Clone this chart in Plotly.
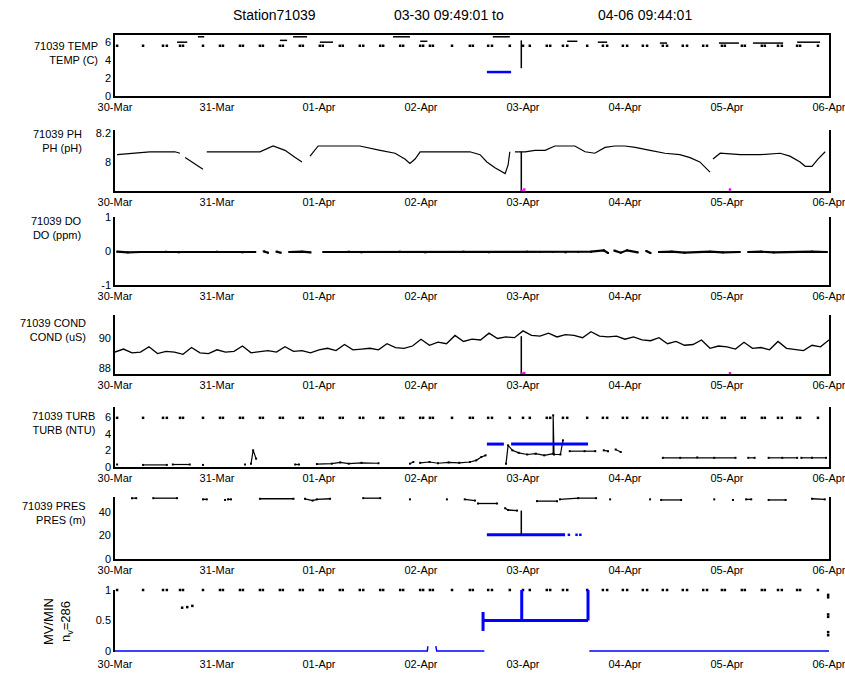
import plotly.graph_objects as go

# ---------------- data (hours since 30-Mar 00:00) ----------------
DAY_H = [0, 24, 48, 72, 96, 120, 144, 168]
DAY_LABELS = ["30-Mar", "31-Mar", "01-Apr", "02-Apr", "03-Apr", "04-Apr", "05-Apr", "06-Apr"]

TITLE_PARTS = ["Station71039", "03-30 09:49:01 to", "04-06 09:44:01"]
YLABELS = [
    ["71039 TEMP", "TEMP (C)"],
    ["71039 PH", "PH (pH)"],
    ["71039 DO", "DO (ppm)"],
    ["71039 COND", "COND (uS)"],
    ["71039 TURB", "TURB (NTU)"],
    ["71039 PRES", "PRES (m)"],
]
MV_LABEL = ["MV/MIN", "n<sub>v</sub>=286"]

# flagged samples drawn at the top of several panels
TOP_DOT_H = [0.5, 6.6, 11.3, 12.2, 15.3, 16.0, 20.7, 24.7, 25.4, 29.4, 30.1, 34.1, 34.8,
             38.8, 39.5, 43.5, 44.2, 48.2, 48.9, 52.9, 53.6, 57.6, 58.4, 62.4, 63.1, 67.1,
             67.8, 71.8, 72.5, 74.1, 74.8, 79.3, 83.5, 84.2, 87.8, 88.7, 92.9, 96.0, 97.6,
             101.6, 102.4, 105.4, 106.4, 111.1, 114.8, 115.8, 119.5, 120.5, 124.2, 125.2,
             128.9, 129.9, 133.6, 134.6, 138.4, 139.3, 142.8, 143.5, 147.5, 148.2, 152.2,
             152.9, 156.0, 156.9, 160.5, 161.2, 165.4]
TEMP_TOP_V = 5.6
TURB_TOP_V = 5.9
MV_TOP_V = 1.0

# TEMP
TEMP_DASH_H = [14.6, 17.0, None, 19.5, 21.0, None, 38.8, 40.5, None, 41.9, 45.2, None,
               48.2, 51.3, None, 65.4, 69.4, None, 71.8, 73.5, None, 88.9, 92.9, None,
               106.4, 108.8, None, 113.6, 115.8, None, 128.2, 129.9, None, 142.1, 146.8,
               None, 150.1, 157.2, None, 160.5, 165.9]
TEMP_DASH_V = [6.0, 6.0, None, 6.6, 6.6, None, 6.2, 6.2, None, 6.6, 6.6, None,
               6.0, 6.0, None, 6.6, 6.6, None, 6.1, 6.1, None, 6.6, 6.6, None,
               6.1, 6.1, None, 6.0, 6.0, None, 5.9, 5.9, None, 5.9, 5.9,
               None, 5.9, 5.9, None, 6.0, 6.0]
TEMP_BLUE_H = [87.5, 93.2]
TEMP_BLUE_V = [2.67, 2.67]

# vertical "current time" marker
MARK_H = [95.6, 95.6]
TEMP_MARK_V = [6.2, 3.1]
PH_MARK_V = [8.07, 7.8]
COND_MARK_V = [90.1, 87.6]
PRES_MARK_V = [41.0, 20.5]

# PH
PH_H = [0.5, 4.7, 8.2, 14.1, 15.3, None, 16.5, 18.1, 19.5, 20.7, None, 21.6, 24.7, 29.4,
        34.1, 37.2, 40.0, 42.4, 44.0, None, 45.9, 47.8, 51.8, 57.6, 62.4, 65.9, 68.2,
        69.4, 70.6, 71.8, 76.5, 83.5, 85.9, 87.5, 89.4, 91.8, 92.5, 92.9, None, 94.1,
        96.5, 98.8, 101.2, 103.5, 105.9, 108.2, 110.6, 112.9, 115.3, 117.6, 120.0,
        122.4, 125.9, 129.4, 132.9, 135.3, 137.6, 140.0, None, 140.7, 142.4, 147.1,
        151.8, 156.5, 158.8, 161.2, 162.4, 164.0, 165.4, 167.1]
PH_V = [8.05, 8.06, 8.07, 8.07, 8.06, None, 8.03, 8.00, 7.97, 7.95, None, 8.07, 8.07, 8.07,
        8.07, 8.11, 8.08, 8.03, 8.00, None, 8.04, 8.11, 8.11, 8.11, 8.08, 8.06, 8.02,
        7.99, 8.02, 8.07, 8.07, 8.07, 8.05, 8.00, 7.96, 7.92, 7.98, 8.07, None, 8.07,
        8.07, 8.08, 8.08, 8.11, 8.11, 8.11, 8.07, 8.06, 8.10, 8.11, 8.11,
        8.10, 8.08, 8.06, 8.05, 8.03, 8.00, 7.93, None, 8.02, 8.06, 8.05,
        8.05, 8.06, 8.04, 8.00, 7.97, 7.97, 8.02, 8.07]

MAG_H = [95.7, 96.3, 144.7]
PH_MAG_V = [7.80, 7.81, 7.81]
COND_MAG_V = [87.62, 87.66, 87.65]

# DO
DO_H = [0.5, 3, 6, 9, 12, 15, 18, 21, 24, 27, 30, 33, None, 35, 36, None, 38, 39, None,
        41, 44, 46, None, 49, 52, 55, 58, 61, 64, 67, 70, 73, 76, 79, 82, 85, 88, 91, 94,
        97, 100, 103, 106, 109, 112, 115, 116, None, 117.5, 119, 120.5, 123, None, 125,
        126, None, 128, 131, 134, 137, 140, 143, 146, 147, None, 149, 152, 155, 158, 161,
        164, 167.5]
DO_V = [-0.02, -0.04, -0.03, -0.03, -0.02, -0.04, -0.03, -0.03, -0.02, -0.03, -0.04, -0.03,
        None, -0.01, -0.05, None, -0.02, -0.05, None, -0.03, -0.02, -0.04, None, -0.03,
        -0.03, -0.02, -0.04, -0.03, -0.03, -0.02, -0.03, -0.04, -0.03, -0.03, -0.02, -0.03,
        -0.04, -0.03, -0.03, -0.02, -0.03, -0.03, -0.04, -0.03, -0.02, 0.02, -0.06, None,
        0.01, -0.05, 0.02, -0.04, None, 0.0, -0.06, None, -0.03, -0.02, -0.05, -0.03,
        -0.02, -0.04, -0.03, -0.03, None, -0.03, -0.02, -0.04, -0.03, -0.03, -0.02, -0.03]

# COND
COND_H = [0, 2, 4, 6, 8, 10, 12, 14, 16, 18, 20, 22, 24, 26, 28, 30, 32, 34, 36, 38, 40,
          42, 44, 46, 48, 50, 52, 54, 56, 58, 60, 62, 64, 66, 68, 70, 72, 74, 76, 78, 80,
          82, 84, 86, 88, 90, 92, 94, 96, 98, 100, 102, 104, 106, 108, 110, 112, 114, 116,
          118, 120, 122, 124, 126, 128, 130, 132, 134, 136, 138, 140, 142, 144, 146, 148,
          150, 152, 154, 156, 158, 160, 162, 164, 166, 168]
COND_V = [89.05, 89.25, 89.0, 89.05, 89.4, 88.95, 89.1, 89.05, 88.9, 89.35, 89.0, 88.95,
          89.2, 89.05, 89.1, 89.45, 89.0, 89.1, 89.15, 89.05, 89.4, 89.1, 89.15, 89.0,
          89.2, 89.3, 89.15, 89.55, 89.2, 89.25, 89.3, 89.2, 89.6, 89.35, 89.3, 89.45,
          89.9, 89.5, 89.7, 89.6, 90.15, 89.75, 89.9, 89.85, 90.3, 89.95, 90.05, 90.0,
          90.45, 90.15, 90.1, 90.3, 90.05, 90.2, 90.15, 90.0, 90.4, 90.1, 90.05, 90.1,
          89.9, 90.05, 89.85, 89.8, 90.0, 89.6, 89.75, 89.5, 89.55, 89.85, 89.3, 89.45,
          89.4, 89.25, 89.7, 89.3, 89.35, 89.2, 89.75, 89.3, 89.25, 89.15, 89.5, 89.4, 89.85]

# TURB
TURB_H = [0.5, None, 6.6, 12.2, None, 13.6, 17.6, None, 20.7, None, 30.6, None, 32.0, 32.5,
          33.2, None, 42.4, 43.3, None, 47.5, 51.0, 53.0, 55.0, 58.0, 62.0, None, 69.4,
          70.2, None, 71.8, 74.0, 76.0, 78.5, 81.0, 83.5, 85.0, 86.2, 87.2, None, 92.0,
          92.5, 93.5, 95.0, 97.0, 99.0, 101.0, 103.1, 103.1, 103.3, 104.8, 105.4, None,
          107.0, 110.5, 113.0, None, 115.0, 116.0, None, 117.8, 119.0, None, 128.9, 133.0,
          137.0, 141.0, 146.0, None, 149.0, 150.5, None, 153.8, 157.0, 160.5, None, 161.5,
          164.0, 167.3]
TURB_V = [0.3, None, 0.25, 0.25, None, 0.3, 0.3, None, 0.25, None, 0.3, None, 0.4, 2.0,
          1.0, None, 0.3, 0.3, None, 0.35, 0.4, 0.55, 0.4, 0.5, 0.45, None, 0.4,
          0.6, None, 0.5, 0.6, 0.45, 0.55, 0.5, 0.6, 0.8, 1.2, 1.4, None, 0.4,
          2.6, 2.0, 1.7, 1.5, 1.6, 1.4, 1.6, 6.2, 1.5, 1.5, 3.2, None,
          1.9, 1.9, 1.9, None, 2.0, 1.9, None, 2.1, 1.8, None, 1.1, 1.1,
          1.15, 1.1, 1.1, None, 1.1, 1.1, None, 1.1, 1.1, 1.1, None, 1.1,
          1.1, 1.1]
TURB_BLUE_H = [87.5, 91.5, None, 93.2, 111.3]
TURB_BLUE_V = [2.75, 2.75, None, 2.75, 2.75]

# PRES
PRES_H = [4.0, 5.0, None, 9.0, 14.6, None, 20.7, 21.6, None, 25.9, None, 26.6, 27.3, None,
          34.1, 42.0, None, 44.7, 46.5, 47.5, 50.6, None, 58.4, 62.4, None, 69.4, None,
          78.1, None, 82.3, 84.7, None, 85.4, 89.9, None, 91.8, 92.5, 94.6, None, 99.3,
          104.0, None, 104.7, 109.0, 113.2, None, 116.5, None, 125.9, None, 128.5, 133.2,
          None, 141.0, None, 145.4, None, 148.5, 149.7, None, 153.8, 157.8, None, 164.0,
          167.0]
PRES_V = [51.5, 51.5, None, 51.5, 51.5, None, 50.5, 50.5, None, 50.0, None, 50.5, 50.5, None,
          51.0, 51.0, None, 51.0, 49.5, 50.5, 51.0, None, 51.5, 51.5, None, 50.5, None,
          50.5, None, 50.5, 49.5, None, 47.0, 47.0, None, 43.0, 41.5, 41.0, None, 49.0,
          49.0, None, 50.5, 51.5, 51.5, None, 50.5, None, 50.5, None, 50.0, 50.0,
          None, 50.5, None, 50.0, None, 50.5, 50.5, None, 50.0, 50.0, None, 51.0,
          50.5]
PRES_BLUE_H = [87.5, 105.9]
PRES_BLUE_V = [20.5, 20.5]
PRES_BLUE_DOT_H = [106.8, 108.6, 109.5]
PRES_BLUE_DOT_V = [20.5, 20.5, 20.5]

# MV / MIN
MV_BASE_H = [0, 73.5, 73.6, None, 75.5, 75.7, 86.9, None, 111.6, 168]
MV_BASE_V = [0, 0, 0.08, None, 0.08, 0, 0, None, 0, 0]
MV_BRACKET_H = [86.6, 86.6, None, 86.6, 111.3, None, 95.7, 95.7, None, 111.3, 111.3]
MV_BRACKET_V = [0.33, 0.64, None, 0.5, 0.5, None, 0.5, 1.0, None, 0.5, 1.0]
MV_DOT_H = [15.8, 17.0, 18.2, 167.8, 167.8, 167.8, 167.8, 167.8, 167.8]
MV_DOT_V = [0.71, 0.72, 0.74, 0.92, 0.88, 0.60, 0.56, 0.31, 0.26]

# ---------------- layout ----------------
W, H = 845, 673
LEFT, RIGHT = 115, 829
PANELS = [(35, 96), (130, 191), (217, 285), (315, 374), (407, 467), (497, 559), (590, 652)]
YRANGES = [[0, 6.8], [7.8, 8.22], [-1, 1], [87.6, 91.5], [0, 7.2], [0, 52.5], [-0.015, 1.0]]
YTICKS = [[0, 2, 4, 6], [8, 8.2], [-1, 0, 1], [88, 90], [0, 2, 4, 6], [0, 20, 40], [0, 0.5, 1]]
YTICKTEXT = [["0", "2", "4", "6"], ["8", "8.2"], ["-1", "0", "1"], ["88", "90"],
             ["0", "2", "4", "6"], ["0", "20", "40"], ["0", "0.5", "1"]]
LABEL_RIGHT = [100, 84, 84, 88, 97, 88]
LABEL_TOP = [38, 126, 213, 315, 408, 498]

FONT = "Liberation Sans, Arial, Helvetica, sans-serif"


def px(x):
    return x / W


def py(y):
    return 1 - y / H


fig = go.Figure()


def ax(i):
    return ("x" if i == 0 else "x%d" % (i + 1)), ("y" if i == 0 else "y%d" % (i + 1))


def add(i, xs, ys, mode="lines", color="black", width=1.2, size=2.5, clip=True):
    xa, ya = ax(i)
    fig.add_trace(go.Scatter(
        x=xs, y=ys, mode=mode, xaxis=xa, yaxis=ya, showlegend=False,
        hoverinfo="skip", connectgaps=False, cliponaxis=clip,
        line=dict(color=color, width=width),
        marker=dict(color=color, size=size, symbol="square")))


# panel 1: TEMP
add(0, TOP_DOT_H, [TEMP_TOP_V] * len(TOP_DOT_H), mode="markers", size=2.5)
add(0, TEMP_DASH_H, TEMP_DASH_V, width=1.5)
add(0, TEMP_BLUE_H, TEMP_BLUE_V, color="#0000ff", width=2.5)
add(0, MARK_H, TEMP_MARK_V, width=1.5)

# panel 2: PH
add(1, PH_H, PH_V, mode="lines", width=1.2)
add(1, MARK_H, PH_MARK_V, width=1.5)
add(1, MAG_H, PH_MAG_V, mode="markers", color="#ff00ff", size=2.5, clip=False)

# panel 3: DO
add(2, DO_H, DO_V, mode="lines+markers", width=2.2, size=2)

# panel 4: COND
add(3, COND_H, COND_V, width=1.3)
add(3, MARK_H, COND_MARK_V, width=1.5)
add(3, MAG_H, COND_MAG_V, mode="markers", color="#ff00ff", size=2.5, clip=False)

# panel 5: TURB
add(4, TOP_DOT_H, [TURB_TOP_V] * len(TOP_DOT_H), mode="markers", size=2.5)
add(4, TURB_H, TURB_V, mode="lines+markers", width=1.2, size=2)
add(4, TURB_BLUE_H, TURB_BLUE_V, color="#0000ff", width=3)

# panel 6: PRES
add(5, PRES_H, PRES_V, mode="lines+markers", width=1.3, size=2)
add(5, PRES_BLUE_H, PRES_BLUE_V, color="#0000ff", width=3)
add(5, PRES_BLUE_DOT_H, PRES_BLUE_DOT_V, mode="markers", color="#0000ff", size=2.5)
add(5, MARK_H, PRES_MARK_V, width=1.5)

# panel 7: MV
add(6, TOP_DOT_H, [MV_TOP_V] * len(TOP_DOT_H), mode="markers", size=2.5, clip=False)
add(6, MV_BASE_H, MV_BASE_V, color="#0000ff", width=1.5)
add(6, MV_BRACKET_H, MV_BRACKET_V, color="#0000ff", width=3)
add(6, MV_DOT_H, MV_DOT_V, mode="markers", size=2.5, clip=False)

layout = dict(
    width=W, height=H, margin=dict(l=0, r=0, t=0, b=0, autoexpand=False),
    paper_bgcolor="white", plot_bgcolor="white",
    font=dict(family=FONT, size=11, color="black"),
)
for i, (t, b) in enumerate(PANELS):
    xa, ya = ax(i)
    xk = "xaxis" if i == 0 else "xaxis%d" % (i + 1)
    yk = "yaxis" if i == 0 else "yaxis%d" % (i + 1)
    layout[xk] = dict(
        type="linear", domain=[px(LEFT), px(RIGHT)], anchor=ya, range=[0, 168],
        tickvals=DAY_H, ticktext=DAY_LABELS, tickfont=dict(size=11),
        ticklabeloverflow="allow", ticklabelstandoff=(4 if i == 6 else 0),
        showline=(i != 6), linecolor="black", linewidth=1.6, automargin=False,
        mirror=(i == 0), showgrid=False, zeroline=False, ticks="", fixedrange=True)
    layout[yk] = dict(
        type="linear", domain=[py(b), py(t)], anchor=xa, range=YRANGES[i],
        tickvals=YTICKS[i], ticktext=YTICKTEXT[i], tickfont=dict(size=11),
        ticklabeloverflow="allow",
        showline=True, linecolor="black", linewidth=1.6, automargin=False,
        mirror=(i != 6), showgrid=False, zeroline=False, ticks="", fixedrange=True)

ann = []
title_x = [274, 449, 645]
for txt, cx in zip(TITLE_PARTS, title_x):
    ann.append(dict(text=txt, x=px(cx), y=py(15), xref="paper", yref="paper",
                    xanchor="center", yanchor="middle", showarrow=False,
                    font=dict(size=14)))
for (l1, l2), t, r in zip(YLABELS, LABEL_TOP, LABEL_RIGHT):
    ann.append(dict(text=l1 + "<br>" + l2, x=px(r), y=py(t), xref="paper", yref="paper",
                    xanchor="right", yanchor="top", align="right", showarrow=False,
                    font=dict(size=11)))
ann.append(dict(text=MV_LABEL[0] + "<br>" + MV_LABEL[1], x=px(58), y=py(621),
                xref="paper", yref="paper", xanchor="center", yanchor="middle",
                textangle=-90, showarrow=False, align="center", font=dict(size=13)))
layout["annotations"] = ann

fig.update_layout(**layout)
fig.write_html("out.html")
